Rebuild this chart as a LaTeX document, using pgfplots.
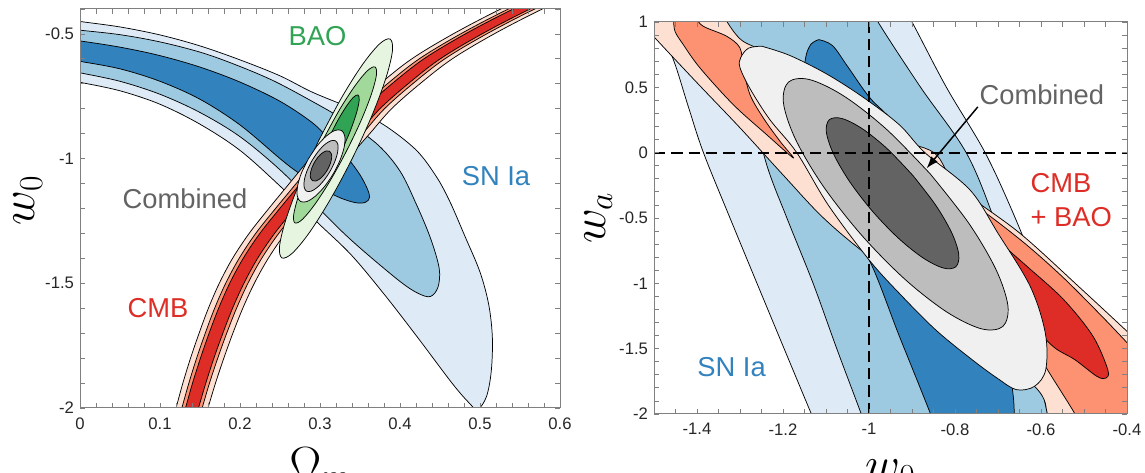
\RequirePackage{fix-cm}
\documentclass[border=0pt]{standalone}
\usepackage{fontspec}
\setmainfont{Liberation Sans}
\usepackage{pgfplots}
\pgfplotsset{compat=1.18}
\usetikzlibrary{arrows.meta}
\definecolor{snA}{HTML}{DEEBF7}
\definecolor{snB}{HTML}{9ECAE1}
\definecolor{snC}{HTML}{3182BD}
\definecolor{cmA}{HTML}{FEE0D2}
\definecolor{cmB}{HTML}{FC9272}
\definecolor{cmC}{HTML}{DE2D26}
\definecolor{baA}{HTML}{E5F5E0}
\definecolor{baB}{HTML}{A1D99B}
\definecolor{baC}{HTML}{31A354}
\definecolor{coA}{HTML}{F0F0F0}
\definecolor{coB}{HTML}{BDBDBD}
\definecolor{coC}{HTML}{636363}
\newcommand{\tlab}{\fontsize{12.5}{14}\selectfont}
\newcommand{\plab}{\fontsize{20.5}{22}\selectfont}
\newcommand{\alab}{\fontsize{36}{36}\selectfont}
\pgfplotsset{
  base/.style={scale only axis, anchor=south west, axis on top,
    axis line style={black!50, line width=0.75pt},
    tick style={black!50, line width=0.6pt},
    major tick length=3.5pt, minor tick length=3.5pt, tick align=inside,
    xticklabel style={font=\tlab, text=black!85, yshift=-3.5pt},
    yticklabel style={font=\tlab, text=black!85, xshift=-1pt},
    xlabel style={font=\alab, at={(axis description cs:0.5,0)}, anchor=north, inner sep=0pt},
    ylabel style={font=\alab, anchor=base, inner sep=0pt}},
  cnt/.style={draw=black, line width=0.55pt, smooth, tension=0.55},
}
\begin{document}
\begin{tikzpicture}
% ---------------- left panel ----------------
\begin{axis}[base, at={(60pt,48.75pt)}, width=360pt, height=299.25pt,
  xmin=0, xmax=0.6, ymin=-2, ymax=-0.4,
  xtick={0,0.1,0.2,0.3,0.4,0.5,0.6}, xticklabels={0,0.1,0.2,0.3,0.4,0.5,0.6},
  ytick={-2,-1.5,-1,-0.5}, yticklabels={-2,-1.5,-1,-0.5},
  minor xtick={0,0.02,...,0.6}, minor ytick={-2,-1.9,...,-0.4},
  xlabel={$\Omega_m$}, ylabel={$w_0$},
  xlabel style={yshift=-29.25pt},
  ylabel style={at={(axis description cs:-0.094,0.52)}}]
% SN Ia
\addplot[cnt, fill=snA] coordinates {(-0.02,-0.44) (0,-0.45) (0.05,-0.472) (0.1,-0.504) (0.15,-0.548) (0.2,-0.604) (0.25,-0.668) (0.29,-0.733) (0.34,-0.80) (0.38,-0.865) (0.42,-0.965) (0.445,-1.07) (0.462,-1.17) (0.481,-1.31) (0.50,-1.455) (0.511,-1.587) (0.5155,-1.72) (0.514,-1.855) (0.508,-1.955) (0.497,-2.005) (0.485,-1.975) (0.464,-1.896) (0.4225,-1.719) (0.381,-1.547) (0.339,-1.386) (0.2975,-1.258) (0.25,-1.11) (0.2,-0.967) (0.15,-0.862) (0.1,-0.782) (0.05,-0.728) (0,-0.694) (-0.02,-0.683) (-0.02,-0.44)};
\addplot[cnt, fill=snB] coordinates {(-0.02,-0.478) (0,-0.485) (0.05,-0.503) (0.1,-0.532) (0.15,-0.573) (0.19,-0.618) (0.24,-0.685) (0.29,-0.77) (0.33,-0.845) (0.3725,-0.945) (0.40,-1.05) (0.42,-1.18) (0.438,-1.318) (0.449,-1.44) (0.4475,-1.515) (0.438,-1.553) (0.4225,-1.54) (0.401,-1.495) (0.36,-1.386) (0.33,-1.30) (0.3,-1.205) (0.25,-1.045) (0.2,-0.912) (0.15,-0.815) (0.1,-0.742) (0.05,-0.69) (0,-0.656) (-0.02,-0.645) (-0.02,-0.478)};
\addplot[cnt, fill=snC] coordinates {(-0.02,-0.52) (0,-0.528) (0.05,-0.553) (0.1,-0.587) (0.15,-0.633) (0.2,-0.693) (0.25,-0.77) (0.29,-0.855) (0.3125,-0.925) (0.335,-1.0) (0.35,-1.065) (0.359,-1.12) (0.362,-1.155) (0.357,-1.175) (0.345,-1.177) (0.325,-1.157) (0.3,-1.115) (0.27,-1.05) (0.25,-1.0) (0.2,-0.865) (0.15,-0.762) (0.1,-0.69) (0.05,-0.64) (0,-0.61) (-0.02,-0.6) (-0.02,-0.52)};
% CMB
\addplot[cnt, fill=cmA] coordinates {(0.111,-2.1) (0.120,-2.0) (0.1286,-1.9) (0.1382,-1.8) (0.1489,-1.7) (0.1605,-1.6) (0.1741,-1.5) (0.1907,-1.4) (0.2114,-1.3) (0.236,-1.2) (0.2616,-1.1) (0.2872,-1.0) (0.3139,-0.9) (0.3405,-0.8) (0.3751,-0.7) (0.4147,-0.6) (0.4664,-0.5) (0.526,-0.4) (0.5936,-0.3) (0.6464,-0.3) (0.578,-0.4) (0.5176,-0.5) (0.4653,-0.6) (0.4249,-0.7) (0.3895,-0.8) (0.3621,-0.9) (0.3348,-1.0) (0.3084,-1.1) (0.282,-1.2) (0.2566,-1.3) (0.2353,-1.4) (0.2179,-1.5) (0.2035,-1.6) (0.1911,-1.7) (0.1798,-1.8) (0.1694,-1.9) (0.160,-2.0) (0.151,-2.1) (0.111,-2.1)};
\addplot[cnt, fill=cmB] coordinates {(0.1183,-2.1) (0.1273,-2.0) (0.1361,-1.9) (0.1458,-1.8) (0.1566,-1.7) (0.1683,-1.6) (0.1821,-1.5) (0.1989,-1.4) (0.2196,-1.3) (0.2444,-1.2) (0.2702,-1.1) (0.2959,-1.0) (0.3227,-0.9) (0.3494,-0.8) (0.3842,-0.7) (0.424,-0.6) (0.4757,-0.5) (0.5355,-0.4) (0.6033,-0.3) (0.6367,-0.3) (0.5685,-0.4) (0.5083,-0.5) (0.456,-0.6) (0.4158,-0.7) (0.3806,-0.8) (0.3533,-0.9) (0.3261,-1.0) (0.2998,-1.1) (0.2736,-1.2) (0.2484,-1.3) (0.2271,-1.4) (0.2099,-1.5) (0.1957,-1.6) (0.1834,-1.7) (0.1722,-1.8) (0.1619,-1.9) (0.1527,-2.0) (0.1437,-2.1) (0.1183,-2.1)};
\addplot[cnt, fill=cmC] coordinates {(0.1229,-2.1) (0.1319,-2.0) (0.1407,-1.9) (0.1506,-1.8) (0.1614,-1.7) (0.1733,-1.6) (0.1871,-1.5) (0.204,-1.4) (0.2248,-1.3) (0.2497,-1.2) (0.2755,-1.1) (0.3014,-1.0) (0.3282,-0.9) (0.3551,-0.8) (0.3899,-0.7) (0.4298,-0.6) (0.4816,-0.5) (0.5415,-0.4) (0.6093,-0.3) (0.6307,-0.3) (0.5625,-0.4) (0.5024,-0.5) (0.4502,-0.6) (0.4101,-0.7) (0.3749,-0.8) (0.3478,-0.9) (0.3206,-1.0) (0.2945,-1.1) (0.2683,-1.2) (0.2432,-1.3) (0.222,-1.4) (0.2049,-1.5) (0.1907,-1.6) (0.1786,-1.7) (0.1674,-1.8) (0.1573,-1.9) (0.1481,-2.0) (0.1391,-2.1) (0.1229,-2.1)};
% BAO
\addplot[cnt, fill=baA] coordinates {(0.2987,-0.9257) (0.2744,-1.0965) (0.2572,-1.2460) (0.2494,-1.3522) (0.2525,-1.3985) (0.2658,-1.3780) (0.2874,-1.2936) (0.3138,-1.1587) (0.3413,-0.9931) (0.3656,-0.8223) (0.3828,-0.6728) (0.3906,-0.5666) (0.3875,-0.5203) (0.3742,-0.5408) (0.3526,-0.6252) (0.3262,-0.7601) (0.2987,-0.9257)};
\addplot[cnt, fill=baB] coordinates {(0.3043,-0.9215) (0.2862,-1.0431) (0.2732,-1.1496) (0.2671,-1.2252) (0.2688,-1.2581) (0.2781,-1.2434) (0.2936,-1.1832) (0.3130,-1.0871) (0.3332,-0.9691) (0.3513,-0.8475) (0.3643,-0.7410) (0.3705,-0.6654) (0.3688,-0.6325) (0.3594,-0.6472) (0.3439,-0.7074) (0.3245,-0.8035) (0.3043,-0.9215)};
\addplot[cnt, fill=baC] coordinates {(0.3091,-0.9311) (0.2988,-1.0089) (0.2916,-1.0770) (0.2885,-1.1252) (0.2900,-1.1458) (0.2959,-1.1361) (0.3053,-1.0972) (0.3167,-1.0353) (0.3284,-0.9595) (0.3387,-0.8817) (0.3459,-0.8136) (0.3490,-0.7654) (0.3475,-0.7448) (0.3416,-0.7546) (0.3323,-0.7934) (0.3208,-0.8553) (0.3091,-0.9311)};
% Combined
\addplot[cnt, fill=coA] coordinates {(0.2856,-1.0004) (0.2769,-1.0571) (0.2720,-1.1096) (0.2716,-1.1499) (0.2756,-1.1718) (0.2836,-1.1721) (0.2942,-1.1507) (0.3059,-1.1109) (0.3170,-1.0586) (0.3256,-1.0019) (0.3305,-0.9495) (0.3309,-0.9091) (0.3269,-0.8872) (0.3189,-0.8869) (0.3083,-0.9083) (0.2966,-0.9481) (0.2856,-1.0004)};
\addplot[cnt, fill=coB] coordinates {(0.2899,-1.0085) (0.2838,-1.0487) (0.2804,-1.0858) (0.2802,-1.1144) (0.2831,-1.1302) (0.2889,-1.1306) (0.2965,-1.1156) (0.3048,-1.0876) (0.3126,-1.0506) (0.3187,-1.0104) (0.3221,-0.9732) (0.3224,-0.9446) (0.3194,-0.9288) (0.3137,-0.9284) (0.3060,-0.9434) (0.2977,-0.9715) (0.2899,-1.0085)};
\addplot[cnt, fill=coC] coordinates {(0.2931,-1.0145) (0.2897,-1.0382) (0.2880,-1.0606) (0.2883,-1.0783) (0.2906,-1.0885) (0.2945,-1.0898) (0.2995,-1.0819) (0.3047,-1.0660) (0.3094,-1.0445) (0.3128,-1.0208) (0.3145,-0.9984) (0.3142,-0.9807) (0.3119,-0.9705) (0.3080,-0.9692) (0.3030,-0.9771) (0.2978,-0.9930) (0.2931,-1.0145)};
\node[font=\plab, text=baC] at (axis cs:0.297,-0.507) {BAO};
\node[font=\plab, text=snC] at (axis cs:0.52,-1.069) {SN Ia};
\node[font=\plab, text=coC] at (axis cs:0.1313,-1.159) {Combined};
\node[font=\plab, text=cmC] at (axis cs:0.0974,-1.6) {CMB};
\end{axis}
% ---------------- right panel ----------------
\begin{axis}[base, at={(490.5pt,44.25pt)}, width=354.75pt, height=294pt,
  xmin=-1.5, xmax=-0.4, ymin=-2, ymax=1,
  xtick={-1.4,-1.2,-1,-0.8,-0.6,-0.4}, xticklabels={-1.4,-1.2,-1,-0.8,-0.6,-0.4},
  ytick={-2,-1.5,-1,-0.5,0,0.5,1}, yticklabels={-2,-1.5,-1,-0.5,0,0.5,1},
  minor xtick={-1.5,-1.45,...,-0.4}, minor ytick={-2,-1.9,...,1},
  xlabel={$w_0$}, ylabel={$w_a$},
  xlabel style={yshift=-34.3pt},
  ylabel style={at={(axis description cs:-0.1036,0.5)}}]
% SN Ia
\addplot[cnt, fill=snA] coordinates {(-1.52,1.1) (-1.49,0.95) (-1.455,0.712) (-1.42,0.35) (-1.385,0.0) (-1.3233,-0.5) (-1.229,-1.25) (-1.134,-2.0) (-1.12,-2.1) (-0.49,-2.1) (-0.51,-2.0) (-0.55,-1.5) (-0.60,-1.0) (-0.66,-0.5) (-0.73,0.0) (-0.82,0.5) (-0.90,1.0) (-0.92,1.1) (-1.52,1.1)};
\addplot[cnt, fill=snB] coordinates {(-1.37,1.1) (-1.33,1.0) (-1.28,0.45) (-1.238,-0.092) (-1.191,-0.5) (-1.13,-1.0) (-1.075,-1.5) (-1.018,-2.0) (-1.008,-2.1) (-0.58,-2.1) (-0.585,-2.0) (-0.62,-1.5) (-0.66,-1.0) (-0.71,-0.5) (-0.774,0.0) (-0.88,0.5) (-0.979,1.0) (-0.99,1.1) (-1.37,1.1)};
\addplot[cnt, fill=snC] coordinates {(-1.117,0.865) (-1.085,0.82) (-1.049,0.656) (-0.998,0.42) (-0.93,0.18) (-0.82,-0.4) (-0.72,-1.0) (-0.68,-1.5) (-0.665,-1.85) (-0.662,-2.0) (-0.66,-2.1) (-0.85,-2.1) (-0.857,-2.0) (-0.93,-1.4) (-1.0,-0.82) (-1.0575,-0.617) (-1.08,-0.3) (-1.13,0.2) (-1.15,0.55) (-1.147,0.733) (-1.135,0.83) (-1.117,0.865)};
% CMB + BAO
\addplot[cnt, fill=cmA] coordinates {(-1.56,1.1) (-1.53,1.0) (-1.4977,0.878) (-1.40,0.535) (-1.30,0.19) (-1.20,-0.17) (-1.106,-0.4996) (-1.0,-0.795) (-0.80,-1.30) (-0.615,-1.789) (-0.585,-2.0) (-0.575,-2.1) (-0.30,-2.1) (-0.30,-1.60) (-0.35,-1.52) (-0.404,-1.355) (-0.504,-1.05) (-0.649,-0.617) (-0.794,-0.26) (-0.849,0.0) (-0.95,0.12) (-1.05,0.38) (-1.15,0.60) (-1.24,0.77) (-1.296,0.86) (-1.33,1.0) (-1.345,1.1) (-1.56,1.1)};
\addplot[cnt, fill=cmB] coordinates {(-1.46,1.1) (-1.4551,1.0306) (-1.4512,0.9288) (-1.4318,0.8263) (-1.393,0.648) (-1.3156,0.3673) (-1.238,0.1377) (-1.176,-0.0406) (-1.207,0.0872) (-1.2458,0.2655) (-1.2767,0.4438) (-1.2923,0.648) (-1.30,0.801) (-1.3309,0.8906) (-1.3853,0.967) (-1.4007,1.0306) (-1.40,1.1) (-1.46,1.1)};
\addplot[cnt, fill=cmB] coordinates {(-0.83,-0.30) (-0.789,-0.324) (-0.717,-0.49) (-0.632,-0.71) (-0.547,-0.96) (-0.462,-1.24) (-0.404,-1.44) (-0.35,-1.63) (-0.30,-1.80) (-0.30,-2.1) (-0.51,-2.1) (-0.521,-2.0) (-0.585,-1.661) (-0.65,-1.30) (-0.75,-0.70) (-0.83,-0.30)};
\addplot[cnt, fill=cmC] coordinates {(-0.73,-0.62) (-0.7085,-0.655) (-0.632,-0.872) (-0.547,-1.126) (-0.479,-1.406) (-0.4447,-1.661) (-0.449,-1.725) (-0.47,-1.712) (-0.521,-1.585) (-0.572,-1.483) (-0.62,-1.30) (-0.69,-0.95) (-0.73,-0.62)};
% Combined
\addplot[cnt, fill=coA] coordinates {(-1.25,0.815) (-1.185,0.745) (-1.10,0.605) (-1.015,0.427) (-0.93,0.215) (-0.87,0.0) (-0.765,-0.286) (-0.70,-0.617) (-0.625,-1.024) (-0.59,-1.381) (-0.589,-1.661) (-0.615,-1.788) (-0.657,-1.814) (-0.70,-1.73) (-0.76,-1.585) (-0.845,-1.356) (-0.93,-1.075) (-1.0,-0.82) (-1.095,-0.40) (-1.168,0.0) (-1.23,0.25) (-1.275,0.48) (-1.30,0.65) (-1.298,0.73) (-1.28,0.80) (-1.25,0.815)};
\addplot[cnt, fill=coB] coordinates {(-0.8575,-0.1630) (-0.9590,0.1778) (-1.0572,0.4306) (-1.1374,0.5586) (-1.1871,0.5409) (-1.1990,0.3810) (-1.1710,0.1028) (-1.1078,-0.2506) (-1.0185,-0.6266) (-0.9170,-0.9674) (-0.8188,-1.2202) (-0.7386,-1.3482) (-0.6889,-1.3305) (-0.6770,-1.1706) (-0.7050,-0.8924) (-0.7682,-0.5390) (-0.8575,-0.1630)};
\addplot[cnt, fill=coC] coordinates {(-0.8976,-0.1760) (-0.9575,0.0295) (-1.0154,0.1827) (-1.0628,0.2613) (-1.0922,0.2525) (-1.0992,0.1581) (-1.0828,-0.0077) (-1.0455,-0.2193) (-0.9928,-0.4452) (-0.9329,-0.6507) (-0.8750,-0.8039) (-0.8276,-0.8825) (-0.7982,-0.8737) (-0.7912,-0.7793) (-0.8076,-0.6135) (-0.8449,-0.4019) (-0.8976,-0.1760)};
% reference lines
\addplot[black, line width=1.5pt, dash pattern=on 8.5pt off 4.5pt] coordinates {(-1,-2) (-1,1)};
\addplot[black, line width=1.5pt, dash pattern=on 8.5pt off 4.5pt] coordinates {(-1.5,0) (-0.4,0)};
\node[font=\plab, text=coC] at (axis cs:-0.598,0.44) {Combined};
\draw[-{Latex[length=9pt,width=6.5pt]}, line width=1.1pt] (axis cs:-0.747,0.35) -- (axis cs:-0.866,-0.12);
\node[font=\plab, text=cmC, anchor=west, inner sep=0pt] at (axis cs:-0.625,-0.23) {CMB};
\node[font=\plab, text=cmC, anchor=west, inner sep=0pt] at (axis cs:-0.625,-0.49) {+ BAO};
\node[font=\plab, text=snC] at (axis cs:-1.3196,-1.643) {SN Ia};
\end{axis}
\pgfresetboundingbox
\useasboundingbox (0,0) rectangle (858.75pt,354.75pt);
\end{tikzpicture}
\end{document}
